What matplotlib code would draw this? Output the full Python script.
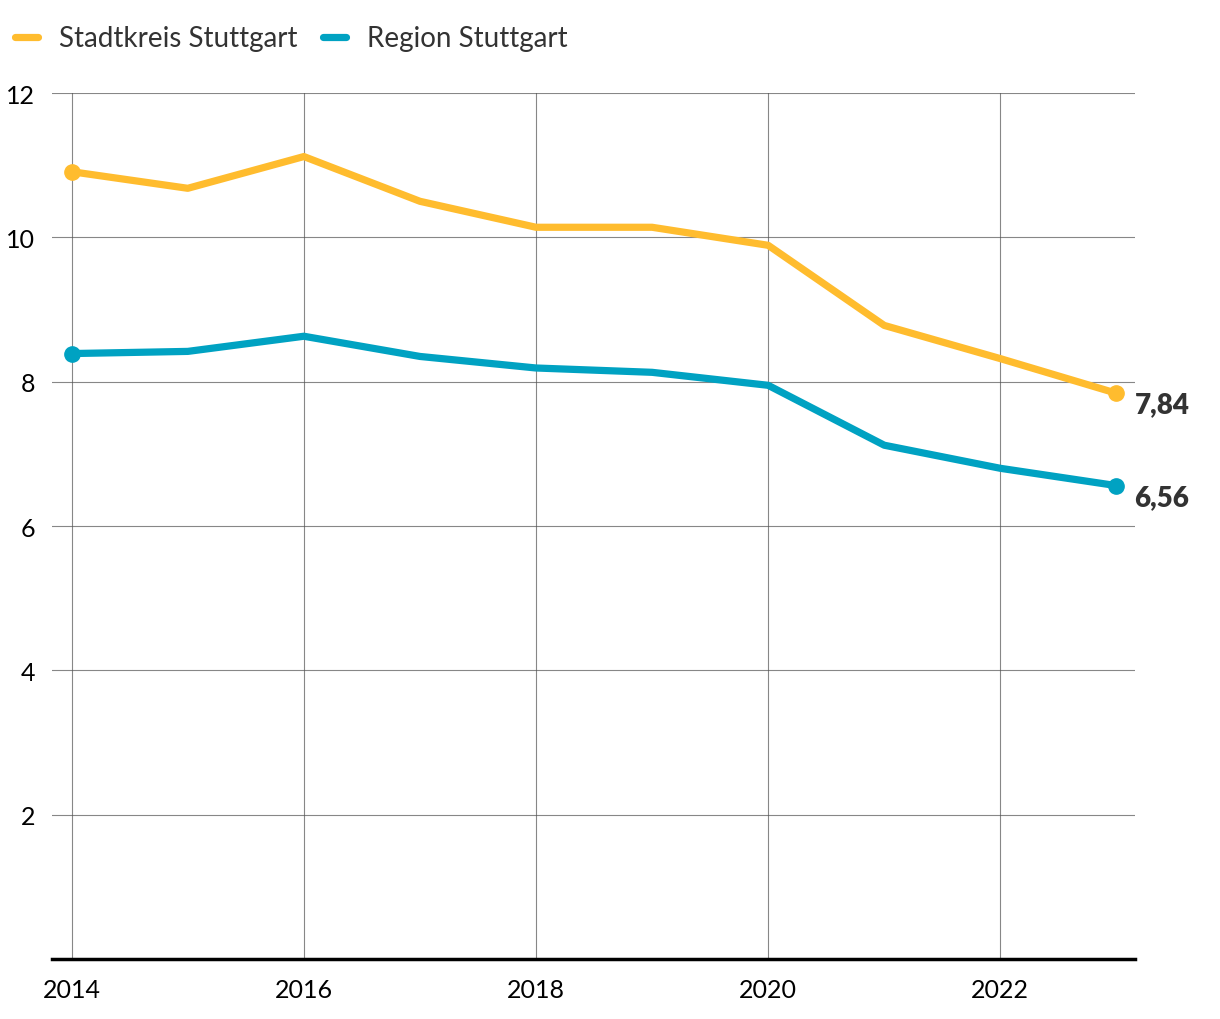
import matplotlib
matplotlib.use('Agg')
from matplotlib import pyplot as plt
from matplotlib.lines import Line2D

plt.rcParams['font.family'] = ['Lato', 'DejaVu Sans']

years = [2014, 2015, 2016, 2017, 2018, 2019, 2020, 2021, 2022, 2023]
stadtkreis = [10.91, 10.68, 11.12, 10.50, 10.14, 10.14, 9.89, 8.78, 8.32, 7.84]
region = [8.39, 8.42, 8.63, 8.35, 8.19, 8.13, 7.95, 7.12, 6.80, 6.56]
labels = ['Stadtkreis Stuttgart', 'Region Stuttgart']
colors = ['#FFBC2E', '#00A2C2']

fig = plt.figure(figsize=(12.2, 10.2), dpi=100)
ax = fig.add_axes([0.0426, 0.0588, 0.8877, 0.8490])

for vals, col, lab in zip([stadtkreis, region], colors, labels):
    ax.plot(years, vals, color=col, lw=5.2, solid_capstyle='round', zorder=3)
    ax.plot([years[0], years[-1]], [vals[0], vals[-1]], 'o', color=col, ms=11, zorder=4)
    ax.annotate(f'{vals[-1]:.2f}'.replace('.', ','), (years[-1], vals[-1]),
                xytext=(13, -8), textcoords='offset points', va='center', ha='left',
                fontsize=20, fontweight='heavy', color='#333333', annotation_clip=False)

ax.set_xlim(2013.83, 2023.16)
ax.set_ylim(0, 12)
ax.set_xticks([2014, 2016, 2018, 2020, 2022])
ax.set_yticks([2, 4, 6, 8, 10, 12])
ax.grid(True, color='#555555', lw=0.8, alpha=0.7)
ax.set_axisbelow(True)
for s in ['top', 'right', 'left']:
    ax.spines[s].set_visible(False)
ax.spines['bottom'].set_linewidth(2.5)
ax.spines['bottom'].set_color('black')
ax.tick_params(axis='both', length=0, labelsize=18, colors='black')
ax.tick_params(axis='x', pad=14)
ax.tick_params(axis='y', pad=12)

handles = [Line2D([], [], color=c, lw=5.2, solid_capstyle='round') for c in colors]
fig.legend(handles, labels, loc='upper left', bbox_to_anchor=(0.003, 0.985), ncol=2,
           frameon=False, fontsize=20, handlelength=0.85, handletextpad=0.75,
           columnspacing=0.9, borderaxespad=0.0, labelcolor='#333333')

plt.savefig('out.png', dpi=100)
